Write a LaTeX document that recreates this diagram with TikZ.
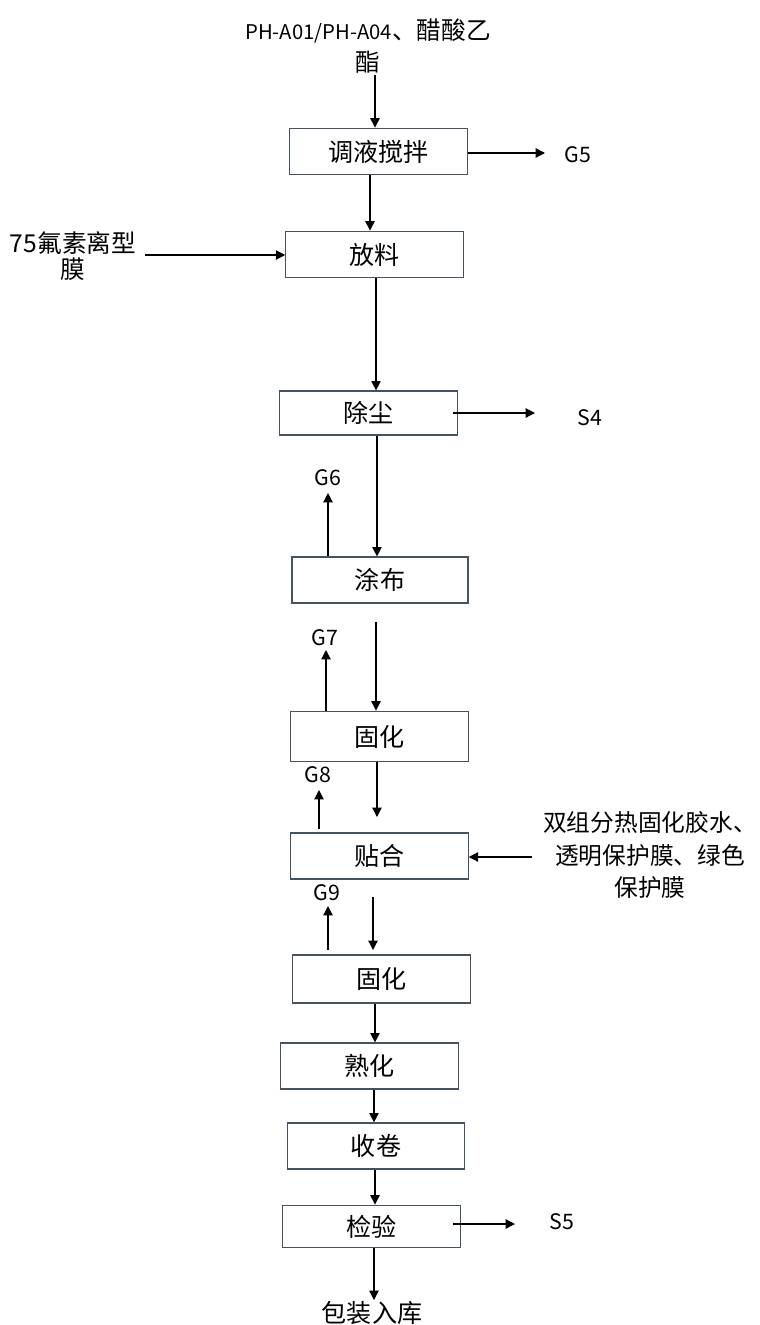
\documentclass[tikz,border=0pt]{standalone}
\usepackage{fontspec}
\setmainfont{Noto Sans CJK SC}
\usetikzlibrary{arrows.meta}
\definecolor{boxline}{RGB}{70,82,98}
\begin{document}
\begin{tikzpicture}[x=0.75pt,y=-0.75pt,
  stepbox/.style={draw=boxline,line width=0.9pt,rectangle,inner sep=0pt,minimum width=133pt,minimum height=35pt,font=\fontsize{18.8}{22}\selectfont},
  lbl/.style={inner sep=0pt,font=\fontsize{16}{19}\selectfont},
  arr/.style={line width=0.9pt,-{Triangle[length=7pt,width=7pt]}}]
\useasboundingbox (0,0) rectangle (760,1325);
% boxes
\node[stepbox,minimum height=35pt] (b1) at (378.5,151.5) {调液搅拌};
\node[stepbox,minimum height=35pt] (b2) at (374.5,254.5) {放料};
\node[stepbox,minimum height=33pt] (b3) at (368.5,413) {除尘};
\node[stepbox,minimum width=132pt,minimum height=34.5pt] (b4) at (380,580) {涂布};
\node[stepbox,minimum height=38pt] (b5) at (379.5,736.5) {固化};
\node[stepbox,minimum height=34.5pt] (b6) at (379.5,856) {贴合};
\node[stepbox,minimum height=36pt] (b7) at (381.5,979) {固化};
\node[stepbox,minimum height=34.5pt] (b8) at (369.5,1066) {熟化};
\node[stepbox,minimum height=34.5pt] (b9) at (376,1146) {收卷};
\node[stepbox,minimum height=32pt] (b10) at (371.5,1226.5) {检验};
% labels
\node[lbl,align=center,font=\fontsize{18.5}{24}\selectfont] (in1) at (368,46) {{\fontsize{15.2}{24}\selectfont PH-A01/PH-A04}、醋酸乙\\酯};
\node[lbl,align=center,font=\fontsize{18.5}{20}\selectfont] (in2) at (73,256) {75氟素离型\\膜};
\node[lbl,align=center,font=\fontsize{17.8}{24.5}\selectfont] (in3) at (650,855) {双组分热固化胶水、\\透明保护膜、绿色\\保护膜};
\node[lbl] (g5) at (578,155) {G5};
\node[lbl] (s4) at (590,418) {S4};
\node[lbl] (g6) at (328,478) {G6};
\node[lbl] (g7) at (325,638) {G7};
\node[lbl] (g8) at (318,775) {G8};
\node[lbl] (g9) at (327,893) {G9};
\node[lbl] (s5) at (562,1222) {S5};
\node[lbl,font=\fontsize{18.8}{22}\selectfont] (out) at (372,1313) {包装入库};
% free ends
\coordinate (t1) at (375,75);
\coordinate (e1) at (545,153);
\coordinate (t2) at (145,255);
\coordinate (e3) at (535,413);
\coordinate (s3) at (453,413);
\coordinate (u6) at (328,493);
\coordinate (s45) at (376,622);
\coordinate (u7) at (326,650);
\coordinate (e56) at (377,817);
\coordinate (s8) at (319,829);
\coordinate (u8) at (319,790);
\coordinate (t3) at (532,857);
\coordinate (s9) at (328,950);
\coordinate (u9) at (328,906);
\coordinate (s67) at (373,897);
\coordinate (e67) at (373,950);
\coordinate (s10) at (453,1224);
\coordinate (e10) at (515,1224);
\coordinate (o1) at (374,1300);
% connectors
\draw[arr] (t1) -- (b1.north -| t1);
\draw[arr] (b1.east |- e1) -- (e1);
\draw[arr] (b1.south -| 370,0) -- (b2.north -| 370,0);
\draw[arr] (t2) -- (b2.west |- t2);
\draw[arr] (b2.south -| 376,0) -- (b3.north -| 376,0);
\draw[arr] (s3) -- (e3);
\draw[arr] (b3.south -| 377,0) -- (b4.north -| 377,0);
\draw[arr] (b4.north -| u6) -- (u6);
\draw[arr] (s45) -- (b5.north -| s45);
\draw[arr] (b5.north -| u7) -- (u7);
\draw[arr] (b5.south -| e56) -- (e56);
\draw[arr] (s8) -- (u8);
\draw[arr] (t3) -- (b6.east |- t3);
\draw[arr] (s9) -- (u9);
\draw[arr] (s67) -- (e67);
\draw[arr] (b7.south -| 375,0) -- (b8.north -| 375,0);
\draw[arr] (b8.south -| 374,0) -- (b9.north -| 374,0);
\draw[arr] (b9.south -| 375,0) -- (b10.north -| 375,0);
\draw[arr] (s10) -- (e10);
\draw[arr] (b10.south -| o1) -- (o1);
\end{tikzpicture}
\end{document}
